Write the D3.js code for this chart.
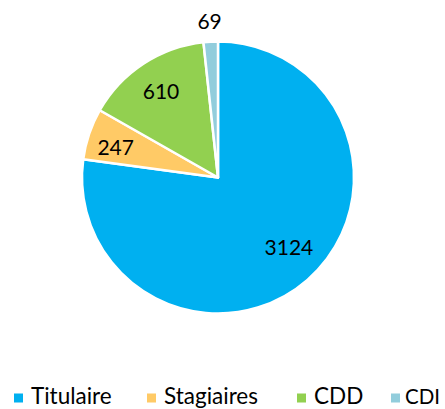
<!DOCTYPE html>
<html><head><meta charset="utf-8">
<script src="https://cdn.jsdelivr.net/npm/d3@7"></script>
<style>html,body{margin:0;padding:0;background:#fff;}svg{display:block;}</style>
</head><body>
<svg id="c" width="445" height="409"></svg>
<script>
const categories = ["Titulaire", "Stagiaires", "CDD", "CDI"];
const values = [3124, 247, 610, 69];
const colors = ["#00B0F0", "#FFCA66", "#92D050", "#92CDDC"];

// layout (not data)
const W = 445, H = 409, cx = 218, cy = 177.5, R = 136;
const labelRadius = [99, 107, 104, 157];
const labelAngleShift = [-0.08, -0.03, 0, 0];
const FONT = "Lato, 'Open Sans', sans-serif";

const svg = d3.select("#c");
const pie = d3.pie().sort(null).value(d => d)(values);
const arc = d3.arc().innerRadius(0).outerRadius(R);
const g = svg.append("g").attr("transform", `translate(${cx},${cy})`);
g.selectAll("path").data(pie).join("path")
  .attr("d", arc).attr("fill", (d, i) => colors[i])
  .attr("stroke", "#fff").attr("stroke-width", 2.5).attr("stroke-linejoin", "round");

const ang = (d, i) => (d.startAngle + d.endAngle) / 2 + labelAngleShift[i];
g.selectAll("text.lbl").data(pie).join("text").attr("class", "lbl")
  .attr("x", (d, i) => labelRadius[i] * Math.sin(ang(d, i)))
  .attr("y", (d, i) => -labelRadius[i] * Math.cos(ang(d, i)))
  .attr("text-anchor", "middle").attr("dominant-baseline", "central")
  .attr("font-family", FONT).attr("font-size", 21)
  .attr("fill", "#000").text(d => d.data);

const legendX = d3.scaleOrdinal().domain(categories).range([14, 147, 297, 391]);
const lg = svg.append("g");
const items = lg.selectAll("g").data(categories).join("g")
  .attr("transform", d => `translate(${legendX(d)},398)`);
items.append("rect").attr("x", 0).attr("y", -4.5).attr("width", 9).attr("height", 9)
  .attr("fill", (d, i) => colors[i]);
items.append("text").attr("x", (d, i) => i === 3 ? 14 : 17).attr("y", 6)
  .attr("font-family", FONT).attr("font-size", (d, i) => i === 3 ? 20.5 : 22.5)
  .attr("fill", "#000").text(d => d);
</script>
</body></html>
